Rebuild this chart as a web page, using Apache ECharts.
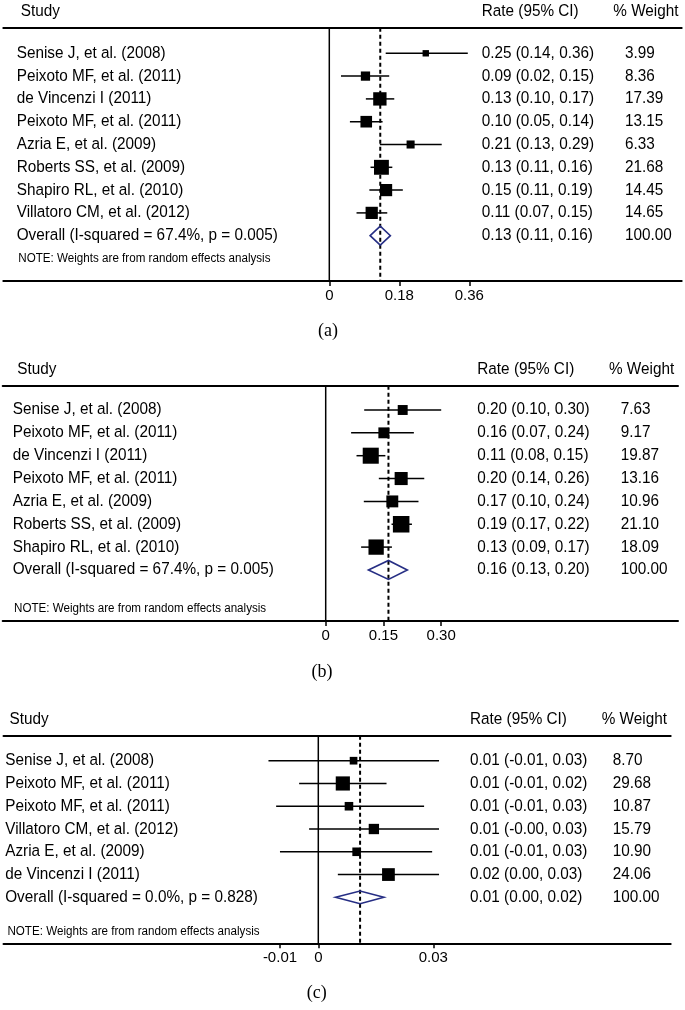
<!DOCTYPE html>
<html><head><meta charset="utf-8">
<script src="https://cdn.jsdelivr.net/npm/echarts@6/dist/echarts.min.js"></script>
<style>html,body{margin:0;padding:0;background:#fff}#c{width:685px;height:1010px}</style>
</head><body><div id="c"></div>
<script>
// ---------- Panel (a) ----------
const studiesA = ["Senise J, et al. (2008)", "Peixoto MF, et al. (2011)", "de Vincenzi I (2011)", "Peixoto MF, et al. (2011)", "Azria E, et al. (2009)", "Roberts SS, et al. (2009)", "Shapiro RL, et al. (2010)", "Villatoro CM, et al. (2012)"];
const estA = [0.248, 0.093, 0.130, 0.095, 0.209, 0.134, 0.146, 0.109];
const lowA = [0.145, 0.030, 0.094, 0.053, 0.130, 0.106, 0.103, 0.070];
const highA = [0.356, 0.154, 0.167, 0.137, 0.289, 0.162, 0.189, 0.149];
const weightA = [3.99, 8.36, 17.39, 13.15, 6.33, 21.68, 14.45, 14.65];
const rateTextA = ["0.25 (0.14, 0.36)", "0.09 (0.02, 0.15)", "0.13 (0.10, 0.17)", "0.10 (0.05, 0.14)", "0.21 (0.13, 0.29)", "0.13 (0.11, 0.16)", "0.15 (0.11, 0.19)", "0.11 (0.07, 0.15)"];
const overallA = [0.131, 0.105, 0.157];
const overallLabelA = "Overall (I-squared = 67.4%, p = 0.005)";
const overallTextA = "0.13 (0.11, 0.16)";
const ticksA = [0, 0.18, 0.36];
const tickLabelsA = ["0", "0.18", "0.36"];

// ---------- Panel (b) ----------
const studiesB = ["Senise J, et al. (2008)", "Peixoto MF, et al. (2011)", "de Vincenzi I (2011)", "Peixoto MF, et al. (2011)", "Azria E, et al. (2009)", "Roberts SS, et al. (2009)", "Shapiro RL, et al. (2010)"];
const estB = [0.200, 0.151, 0.117, 0.196, 0.173, 0.196, 0.131];
const lowB = [0.100, 0.066, 0.080, 0.138, 0.099, 0.171, 0.092];
const highB = [0.300, 0.229, 0.155, 0.256, 0.241, 0.224, 0.172];
const weightB = [7.63, 9.17, 19.87, 13.16, 10.96, 21.10, 18.09];
const rateTextB = ["0.20 (0.10, 0.30)", "0.16 (0.07, 0.24)", "0.11 (0.08, 0.15)", "0.20 (0.14, 0.26)", "0.17 (0.10, 0.24)", "0.19 (0.17, 0.22)", "0.13 (0.09, 0.17)"];
const overallB = [0.163, 0.111, 0.212];
const overallLabelB = "Overall (I-squared = 67.4%, p = 0.005)";
const overallTextB = "0.16 (0.13, 0.20)";
const ticksB = [0, 0.15, 0.30];
const tickLabelsB = ["0", "0.15", "0.30"];

// ---------- Panel (c) ----------
const studiesC = ["Senise J, et al. (2008)", "Peixoto MF, et al. (2011)", "Peixoto MF, et al. (2011)", "Villatoro CM, et al. (2012)", "Azria E, et al. (2009)", "de Vincenzi I (2011)"];
const estC = [0.0092, 0.0064, 0.0080, 0.0145, 0.0100, 0.0183];
const lowC = [-0.0130, -0.0050, -0.0110, -0.0024, -0.0100, 0.0051];
const highC = [0.0315, 0.0178, 0.0276, 0.0315, 0.0297, 0.0315];
const weightC = [8.70, 29.68, 10.87, 15.79, 10.90, 24.06];
const rateTextC = ["0.01 (-0.01, 0.03)", "0.01 (-0.01, 0.02)", "0.01 (-0.01, 0.03)", "0.01 (-0.00, 0.03)", "0.01 (-0.01, 0.03)", "0.02 (0.00, 0.03)"];
const overallC = [0.0109, 0.0045, 0.0171];
const overallLabelC = "Overall (I-squared = 0.0%, p = 0.828)";
const overallTextC = "0.01 (0.00, 0.02)";
const ticksC = [-0.01, 0, 0.03];
const tickLabelsC = ["-0.01", "0", "0.03"];

const headerStudy = "Study", headerRate = "Rate (95% CI)", headerWeight = "% Weight";
const noteText = "NOTE: Weights are from random effects analysis";
const captions = ["(a)", "(b)", "(c)"];
const totalWeight = 100;

// ---------- layout (pixels) ----------
const FONT = "'Liberation Sans', Arial, sans-serif";
const SERIF = "'Liberation Serif', 'Times New Roman', serif";
const FS = 16.3, SX = 0.94;
const DIAMOND = '#262e84';

const panels = [
  {studies: studiesA, est: estA, low: lowA, high: highA, w: weightA, rt: rateTextA, ov: overallA, ovLabel: overallLabelA, ovText: overallTextA, ticks: ticksA, tickLabels: tickLabelsA,
   L: {top: 27.7, bottom: 281, left: 3.3, right: 681.7, origin: 329.3, scale: 389, rowTop: 53.3, rowStep: 22.8, labelX: 16.7, rateX: 481.7, weightX: 625, hStudyX: 20.7, hWeightX: 613.3, headerY: 11.7, noteX: 18.3, noteY: 258.3, capX: 328, capY: 331, boxK: 3.2, diamondH: 19}},
  {studies: studiesB, est: estB, low: lowB, high: highB, w: weightB, rt: rateTextB, ov: overallB, ovLabel: overallLabelB, ovText: overallTextB, ticks: ticksB, tickLabels: tickLabelsB,
   L: {top: 385.7, bottom: 621, left: 2.7, right: 678, origin: 325.7, scale: 385, rowTop: 410, rowStep: 22.85, labelX: 12.7, rateX: 477.3, weightX: 620.7, hStudyX: 17.3, hWeightX: 609, headerY: 369.3, noteX: 14, noteY: 608.3, capX: 322, capY: 672, boxK: 3.6, diamondH: 19}},
  {studies: studiesC, est: estC, low: lowC, high: highC, w: weightC, rt: rateTextC, ov: overallC, ovLabel: overallLabelC, ovText: overallTextC, ticks: ticksC, tickLabels: tickLabelsC,
   L: {top: 735.7, bottom: 943.3, left: 3.5, right: 670.7, origin: 318.3, scale: 3833, rowTop: 760.7, rowStep: 22.77, labelX: 5.2, rateX: 470, weightX: 612.7, hStudyX: 9.6, hWeightX: 601.7, headerY: 719.3, noteX: 7.4, noteY: 931.7, capX: 316.7, capY: 993, boxK: 2.6, diamondH: 12.7}}
];

const grid = [], xAxis = [], yAxis = [], series = [], graphic = [];

function txt(x, y, text, size, family, align, sx) {
  return {type: 'text', x: x, y: y, scaleX: sx || 1, style: {text: text, fontSize: size, fontFamily: family || FONT, fill: '#000', align: align || 'left', verticalAlign: 'middle'}};
}

panels.forEach(function (P, g) {
  const L = P.L;
  const xmin = (L.left - L.origin) / L.scale, xmax = (L.right - L.origin) / L.scale;
  const ymin = (L.top - L.rowTop) / L.rowStep, ymax = (L.bottom - L.rowTop) / L.rowStep;
  grid.push({left: L.left, top: L.top, width: L.right - L.left, height: L.bottom - L.top});
  xAxis.push({gridIndex: g, type: 'value', min: xmin, max: xmax, position: 'bottom',
    axisLine: {show: true, onZero: false, lineStyle: {color: '#000', width: 2}},
    axisTick: {show: true, customValues: P.ticks, length: 5, lineStyle: {color: '#000', width: 1.5}},
    axisLabel: {show: true, customValues: P.ticks, margin: 7, fontSize: 15, fontFamily: FONT, color: '#000',
      formatter: function (v) { const k = P.ticks.findIndex(t => Math.abs(t - v) < 1e-9); return k >= 0 ? P.tickLabels[k] : ''; }},
    splitLine: {show: false}});
  xAxis.push({gridIndex: g, type: 'value', min: xmin, max: xmax, position: 'top',
    axisLine: {show: true, onZero: false, lineStyle: {color: '#000', width: 2}},
    axisTick: {show: false}, axisLabel: {show: false}, splitLine: {show: false}});
  yAxis.push({gridIndex: g, type: 'value', inverse: true, min: ymin, max: ymax, show: false, splitLine: {show: false}});

  const xi = 2 * g;
  // reference lines: zero (solid) and overall estimate (dashed)
  series.push({type: 'custom', xAxisIndex: xi, yAxisIndex: g, silent: true,
    data: [[0, 0], [P.ov[0], 1]],
    renderItem: function (params, api) {
      const v = api.value(0), dashed = api.value(1) === 1;
      const a = api.coord([v, ymin]), b = api.coord([v, ymax]);
      return {type: 'line', shape: {x1: a[0], y1: a[1], x2: b[0], y2: b[1]},
        style: {stroke: '#000', lineWidth: dashed ? 2 : 1.5, lineDash: dashed ? [4, 3] : null}};
    }});
  // studies
  const sdata = P.est.map((e, i) => [e, P.low[i], P.high[i], P.w[i], i]);
  series.push({type: 'custom', xAxisIndex: xi, yAxisIndex: g, silent: true, data: sdata,
    encode: {x: [0, 1, 2], y: 4},
    renderItem: function (params, api) {
      const i = api.value(4);
      const pl = api.coord([api.value(1), i]), ph = api.coord([api.value(2), i]), pe = api.coord([api.value(0), i]);
      const s = L.boxK * Math.sqrt(api.value(3));
      const di = params.dataIndex;
      return {type: 'group', children: [
        {type: 'line', shape: {x1: pl[0], y1: pl[1], x2: ph[0], y2: ph[1]}, style: {stroke: '#000', lineWidth: 1.5}},
        {type: 'rect', shape: {x: pe[0] - s / 2, y: pe[1] - s / 2, width: s, height: s}, style: {fill: '#000'}},
        txt(L.labelX, pe[1], P.studies[di], FS, FONT, 'left', SX),
        txt(L.rateX, pe[1], P.rt[di], FS, FONT, 'left', SX),
        txt(L.weightX, pe[1], P.w[di].toFixed(2), FS, FONT, 'left', SX)
      ]};
    }});
  // overall diamond
  const n = P.studies.length;
  series.push({type: 'custom', xAxisIndex: xi, yAxisIndex: g, silent: true, data: [[P.ov[0], P.ov[1], P.ov[2], n]],
    encode: {x: [0, 1, 2], y: 3},
    renderItem: function (params, api) {
      const i = api.value(3);
      const c = api.coord([api.value(0), i]), l = api.coord([api.value(1), i]), r = api.coord([api.value(2), i]);
      const h = L.diamondH / 2;
      return {type: 'group', children: [
        {type: 'polygon', shape: {points: [[l[0], c[1]], [c[0], c[1] - h], [r[0], c[1]], [c[0], c[1] + h]]},
          style: {fill: 'none', stroke: DIAMOND, lineWidth: 1.6}},
        txt(L.labelX, c[1], P.ovLabel, FS, FONT, 'left', SX),
        txt(L.rateX, c[1], P.ovText, FS, FONT, 'left', SX),
        txt(L.weightX, c[1], totalWeight.toFixed(2), FS, FONT, 'left', SX)
      ]};
    }});
  graphic.push(txt(L.hStudyX, L.headerY, headerStudy, FS, FONT, 'left', SX));
  graphic.push(txt(L.rateX, L.headerY, headerRate, FS, FONT, 'left', SX));
  graphic.push(txt(L.hWeightX, L.headerY, headerWeight, FS, FONT, 'left', SX));
  graphic.push(txt(L.noteX, L.noteY, noteText, 12.5, FONT, 'left', 0.93));
  graphic.push(txt(L.capX, L.capY, captions[g], 18, SERIF, 'center'));
});

const chart = echarts.init(document.getElementById('c'), null, {renderer: 'canvas', width: 685, height: 1010});
chart.setOption({animation: false, backgroundColor: '#fff', grid: grid, xAxis: xAxis, yAxis: yAxis, series: series, graphic: graphic});
</script></body></html>
